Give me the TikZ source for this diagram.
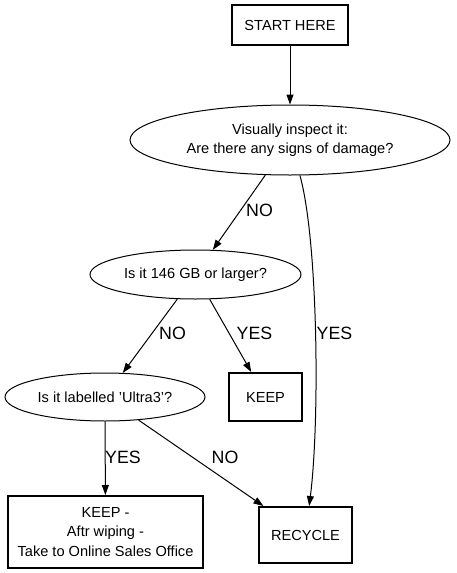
\documentclass[tikz,border=0pt]{standalone}
\usepackage{fontspec}
\setmainfont{Liberation Sans}
\usetikzlibrary{arrows.meta,shapes.geometric}
\tikzset{
  nodefont/.style={font=\fontsize{14.6}{19.5}\selectfont},
  boxnode/.style={draw, line width=2pt, rectangle, inner sep=0pt, nodefont, align=center},
  ellnode/.style={draw, line width=1pt, ellipse, inner sep=0pt, nodefont, align=center},
  edge/.style={line width=1pt, -{Triangle[length=10pt,width=7pt]}},
  elabel/.style={font=\fontsize{17.8}{20}\selectfont, inner sep=0pt}
}
\begin{document}
\begin{tikzpicture}[x=1pt, y=-1pt]
\useasboundingbox (0,0) rectangle (456,573);
\node[boxnode, minimum width=116pt, minimum height=40pt] (start) at (290,25) {START HERE};
\node[ellnode, minimum width=320pt, minimum height=70pt] (e1) at (290,140) {Visually inspect it:\\Are there any signs of damage?};
\node[ellnode, minimum width=211pt, minimum height=49pt] (e2) at (195.5,274.5) {Is it 146 GB or larger?};
\node[boxnode, minimum width=73pt, minimum height=48pt] (keep) at (265.5,397) {KEEP};
\node[ellnode, minimum width=200pt, minimum height=48pt] (e3) at (105,397) {Is it labelled 'Ultra3'?};
\node[boxnode, minimum width=195pt, minimum height=72pt] (keepw) at (105.5,532) {KEEP -\\Aftr wiping -\\Take to Online Sales Office};
\node[boxnode, minimum width=93pt, minimum height=56pt] (recycle) at (305.5,535) {RECYCLE};

\draw[edge] (start) -- (e1);
\draw[edge] (e1) -- (e2);
\draw[edge] (e1) .. controls (318,240) and (320,420) .. (recycle);
\draw[edge] (e2) -- (e3);
\draw[edge] (e2) -- (keep);
\draw[edge] (e3) -- (keepw);
\draw[edge] (e3) -- (recycle);

\node[elabel] (l1) at (259.5,210) {NO};
\node[elabel] (l2) at (334.5,333) {YES};
\node[elabel] (l3) at (172.5,333) {NO};
\node[elabel] (l4) at (254.5,333) {YES};
\node[elabel] (l5) at (123,457) {YES};
\node[elabel] (l6) at (225,457) {NO};
\end{tikzpicture}
\end{document}
